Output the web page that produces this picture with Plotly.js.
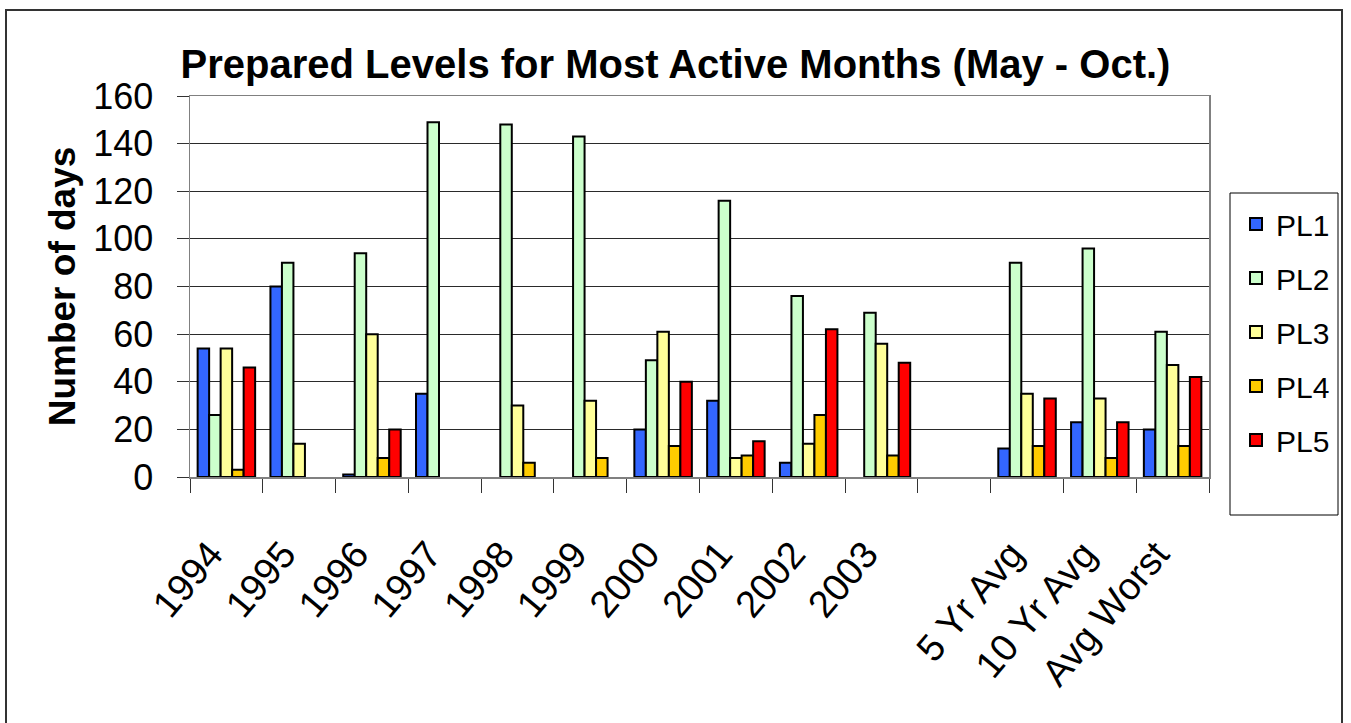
<!DOCTYPE html>
<html>
<head>
<meta charset="utf-8">
<script src="https://cdn.plot.ly/plotly-3.0.1.min.js"></script>
<style>
  html, body { margin: 0; padding: 0; background: #fff; }
  #wrap { position: relative; width: 1351px; height: 723px; overflow: hidden; }
  #chart { width: 1351px; height: 723px; }
  #frame { position: absolute; left: 5px; top: 9px; width: 1338px; height: 740px;
           border: 2px solid #333; pointer-events: none; box-sizing: border-box; }
</style>
</head>
<body>
<div id="wrap">
  <div id="chart"></div>
  <div id="frame"></div>
</div>
<script>
// Categories (the "gap" category is an empty slot between 2003 and the averages)
var categories = ["1994", "1995", "1996", "1997", "1998", "1999", "2000", "2001", "2002", "2003", "gap", "5 Yr Avg", "10 Yr Avg", "Avg Worst"];
var tickLabels = ["1994", "1995", "1996", "1997", "1998", "1999", "2000", "2001", "2002", "2003", "", "5 Yr Avg", "10 Yr Avg", "Avg Worst"];

var seriesNames = ["PL1", "PL2", "PL3", "PL4", "PL5"];
var PL1 = [54, 80, 1, 35, 0, 0, 20, 32, 6, 0, null, 12, 23, 20];
var PL2 = [26, 90, 94, 149, 148, 143, 49, 116, 76, 69, null, 90, 96, 61];
var PL3 = [54, 14, 60, 0, 30, 32, 61, 8, 14, 56, null, 35, 33, 47];
var PL4 = [3, 0, 8, 0, 6, 8, 13, 9, 26, 9, null, 13, 8, 13];
var PL5 = [46, 0, 20, 0, 0, 0, 40, 15, 62, 48, null, 33, 23, 42];
var seriesValues = [PL1, PL2, PL3, PL4, PL5];
var seriesColors = ["#3366FF", "#CCFFCC", "#FFFF99", "#FFCC00", "#FF0000"];

var yTicks = [0, 20, 40, 60, 80, 100, 120, 140, 160];

var FONT = "Liberation Sans, Arial, Helvetica, sans-serif";

var traces = seriesNames.map(function (name, i) {
  var vals = seriesValues[i];
  return {
    type: "bar",
    name: name,
    x: categories,
    y: vals,
    legendgroup: name,
    marker: {
      color: seriesColors[i],
      // no outline on empty (zero) bars, as in the original chart
      line: { color: "#000000", width: vals.map(function (v) { return v ? 2 : 0; }) }
    },
    hoverinfo: "x+y+name"
  };
});

var layout = {
  width: 1351,
  height: 723,
  paper_bgcolor: "#ffffff",
  plot_bgcolor: "#ffffff",
  font: { family: FONT, color: "#000000" },
  margin: { l: 190, r: 142, t: 96, b: 246, pad: 0 },
  barmode: "group",
  bargap: 0.21,
  bargroupgap: 0,
  title: {
    text: "Prepared Levels for Most Active Months (May - Oct.)",
    font: { family: FONT, size: 40, weight: "bold", color: "#000000" },
    xref: "container", x: 0.5, xanchor: "center",
    yref: "container", y: 0.912, yanchor: "middle"
  },
  xaxis: {
    type: "category",
    categoryorder: "array",
    categoryarray: categories,
    tickvals: categories,
    ticktext: tickLabels,
    tickson: "boundaries",
    ticks: "outside",
    ticklen: 14,
    tickwidth: 1,
    tickcolor: "#333333",
    tickangle: -50,
    tickfont: { family: FONT, size: 38, color: "#000000" },
    ticklabelstandoff: 38,
    ticklabelshift: -16,
    showline: true,
    linecolor: "#808080",
    linewidth: 1.5,
    mirror: true,
    showgrid: false,
    zeroline: false,
    automargin: false,
    fixedrange: true
  },
  yaxis: {
    range: [0, 160],
    tickvals: yTicks,
    ticks: "outside",
    ticklen: 12,
    tickwidth: 1,
    tickcolor: "#333333",
    tickfont: { family: FONT, size: 36, color: "#000000" },
    ticklabelstandoff: 16,
    showline: true,
    linecolor: "#808080",
    linewidth: 1.5,
    mirror: true,
    showgrid: true,
    gridcolor: "#2a2a2a",
    gridwidth: 1,
    zeroline: false,
    automargin: false,
    fixedrange: true,
    title: {
      text: "Number of days",
      font: { family: FONT, size: 37, weight: "bold", color: "#000000" },
      standoff: 6
    }
  },
  legend: {
    xref: "container", x: 1236 / 1351, xanchor: "left",
    yref: "container", y: 1 - 198 / 723, yanchor: "top",
    bgcolor: "rgba(0,0,0,0)",
    borderwidth: 0,
    font: { family: FONT, size: 30, color: "#000000" },
    tracegroupgap: 12,
    traceorder: "grouped",
    itemclick: false,
    itemdoubleclick: false
  },
  // legend frame (taller than Plotly's own legend box, like the original)
  shapes: [{
    type: "rect", xref: "paper", yref: "paper", layer: "below",
    x0: (1230 - 190) / 1019, x1: (1338 - 190) / 1019,
    y0: (477 - 515) / 381, y1: (477 - 193) / 381,
    line: { color: "#000000", width: 1 }, fillcolor: "#ffffff"
  }],
  showlegend: true
};

Plotly.newPlot("chart", traces, layout, { displayModeBar: false, staticPlot: true });
</script>
</body>
</html>
